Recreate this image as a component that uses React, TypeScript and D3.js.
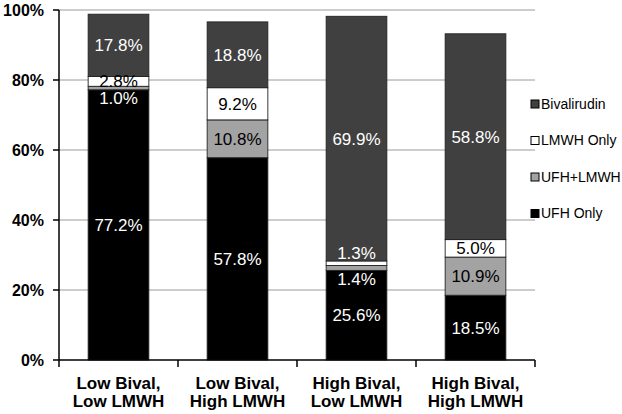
import React from "react";
import * as d3 from "d3";

const categories = [["Low Bival,", "Low LMWH"], ["Low Bival,", "High LMWH"], ["High Bival,", "Low LMWH"], ["High Bival,", "High LMWH"]];
const seriesNames = ["UFH Only", "UFH+LMWH", "LMWH Only", "Bivalirudin"];
const ufhOnly = [77.2, 57.8, 25.6, 18.5];
const ufhLmwh = [1.0, 10.8, 1.4, 10.9];
const lmwhOnly = [2.8, 9.2, 1.3, 5.0];
const bivalirudin = [17.8, 18.8, 69.9, 58.8];
const yTicks = [0, 20, 40, 60, 80, 100];

const fills = ["#000000", "#a3a3a3", "#ffffff", "#404040"];
const textFills = ["#ffffff", "#000000", "#000000", "#ffffff"];

export default function App() {
  const W = 622, H = 414;
  const left = 59, right = 535, top = 10, bottom = 360;
  const x = d3.scaleBand<number>().domain(d3.range(categories.length)).range([left, right]).paddingInner(0.49).paddingOuter(0.245);
  const y = d3.scaleLinear().domain([0, 100]).range([bottom, top]);
  const series = [ufhOnly, ufhLmwh, lmwhOnly, bivalirudin];
  const font = "Liberation Sans, Arial, sans-serif";
  const band = (right - left) / categories.length;

  const legendOrder = [3, 2, 1, 0];

  return (
    <svg width={W} height={H} style={{ position: "absolute", left: 0, top: 0 }} fontFamily={font}>
      <rect width={W} height={H} fill="#fff" />
      {yTicks.filter(t => t > 0).map(t => (
        <line key={t} x1={left} x2={right} y1={y(t)} y2={y(t)} stroke="#9a9a9a" strokeWidth={1} />
      ))}
      {categories.map((_, i) => {
        let cum = 0;
        return (
          <g key={i}>
            {series.map((s, k) => {
              const v = s[i];
              const y0 = y(cum);
              const y1 = y(cum + v);
              cum += v;
              return (
                <rect key={k} x={x(i)} y={y1} width={x.bandwidth()} height={y0 - y1} fill={fills[k]} stroke="#222" strokeWidth={0.9} />
              );
            })}
          </g>
        );
      })}
      {categories.map((_, i) => {
        let cum = 0;
        return (
          <g key={"l" + i}>
            {series.map((s, k) => {
              const v = s[i];
              const y0 = y(cum);
              const y1 = y(cum + v);
              cum += v;
              const below = k === 1 && v < 2;
              const above = k === 2 && v < 2;
              const ly = below ? y0 + 8.5 : above ? y1 - 8 : (y0 + y1) / 2;
              const col = below || above ? "#ffffff" : textFills[k];
              return (
                <text key={k} x={(x(i) as number) + x.bandwidth() / 2} y={ly} dy="0.35em" textAnchor="middle" fontSize={17} fill={col}>
                  {v.toFixed(1) + "%"}
                </text>
              );
            })}
          </g>
        );
      })}
      <line x1={left} x2={left} y1={top} y2={bottom} stroke="#000" strokeWidth={1.5} />
      <line x1={left} x2={right} y1={bottom} y2={bottom} stroke="#000" strokeWidth={1.5} />
      {yTicks.map(t => (
        <g key={"t" + t}>
          <line x1={left - 6} x2={left} y1={y(t)} y2={y(t)} stroke="#000" strokeWidth={1.5} />
          <text x={44} y={y(t)} dy="0.35em" textAnchor="end" fontSize={16} fontWeight="bold">{t + "%"}</text>
        </g>
      ))}
      {d3.range(categories.length + 1).map(i => (
        <line key={"c" + i} x1={left + i * band} x2={left + i * band} y1={bottom} y2={bottom + 7} stroke="#000" strokeWidth={1.5} />
      ))}
      {categories.map((c, i) => (
        <text key={"x" + i} x={(x(i) as number) + x.bandwidth() / 2} textAnchor="middle" fontSize={17} fontWeight="bold">
          <tspan x={(x(i) as number) + x.bandwidth() / 2} y={389}>{c[0]}</tspan>
          <tspan x={(x(i) as number) + x.bandwidth() / 2} y={407}>{c[1]}</tspan>
        </text>
      ))}
      {legendOrder.map((k, j) => {
        const ly = 104 + j * 36.5;
        return (
          <g key={"lg" + k}>
            <rect x={531} y={ly - 4} width={8} height={8} fill={fills[k]} stroke="#000" strokeWidth={1} />
            <text x={541} y={ly} dy="0.35em" fontSize={14}>{seriesNames[k]}</text>
          </g>
        );
      })}
    </svg>
  );
}
